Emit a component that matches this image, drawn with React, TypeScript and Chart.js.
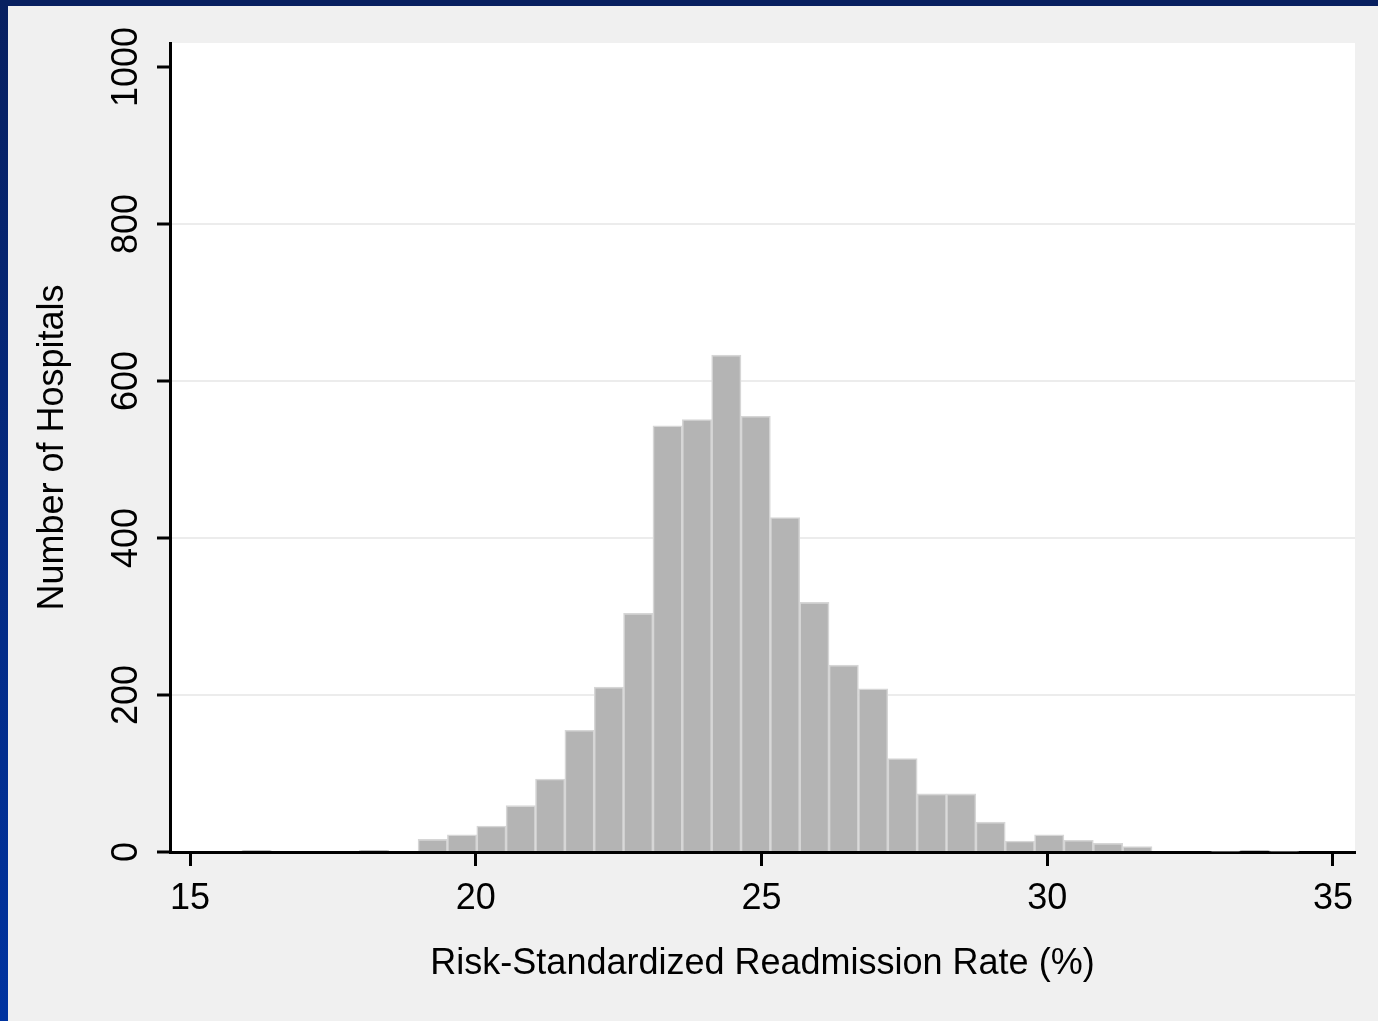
import React, { useEffect, useRef } from "react";
import { Chart, registerables } from "chart.js";

Chart.register(...registerables);

// Histogram bin edges (risk-standardized readmission rate, %)
const binEdges: number[] = [
  15.908, 16.422, 16.935, 17.449, 17.963, 18.477, 18.99, 19.504, 20.018, 20.531,
  21.045, 21.559, 22.073, 22.586, 23.1, 23.614, 24.128, 24.641, 25.155, 25.669,
  26.182, 26.696, 27.21, 27.724, 28.237, 28.751, 29.265, 29.778, 30.292, 30.806,
  31.32, 31.833, 32.347, 32.861, 33.374, 33.888, 34.402,
];

// Number of hospitals in each bin
const hospitalCounts: number[] = [
  2, 0, 0, 0, 2, 0, 16, 22, 33, 59,
  93, 155, 210, 304, 543, 551, 633, 555, 426, 318,
  238, 208, 119, 74, 74, 38, 14, 22, 15, 11,
  7, 0, 0, 1, 2, 1,
];

const xTicks: number[] = [15, 20, 25, 30, 35];
const yTicks: number[] = [0, 200, 400, 600, 800, 1000];

const xTitle = "Risk-Standardized Readmission Rate (%)";
const yTitle = "Number of Hospitals";

const FONT = "'Liberation Sans', Arial, sans-serif";
const FS = 36;

export default function App() {
  const canvasRef = useRef<HTMLCanvasElement | null>(null);

  useEffect(() => {
    const canvas = canvasRef.current;
    if (!canvas) return;

    const points = hospitalCounts.map((c, i) => ({
      x: (binEdges[i] + binEdges[i + 1]) / 2,
      y: c,
    }));

    const bgPlugin = {
      id: "bgPlugin",
      beforeDraw(chart: any) {
        const { ctx, chartArea } = chart;
        ctx.save();
        ctx.fillStyle = "#f0f0f0";
        ctx.fillRect(0, 0, chart.width, chart.height);
        ctx.fillStyle = "#ffffff";
        ctx.fillRect(chartArea.left, chartArea.top, chartArea.right - chartArea.left, chartArea.bottom - chartArea.top);
        ctx.restore();
      },
      afterDraw(chart: any) {
        const { ctx } = chart;
        const ys = chart.scales.y;
        ctx.save();
        ctx.fillStyle = "#000";
        ctx.font = `${FS}px ${FONT}`;
        ctx.textAlign = "center";
        ctx.textBaseline = "middle";
        for (const t of ys.ticks) {
          if (!yTicks.includes(t.value)) continue;
          const py = ys.getPixelForValue(t.value);
          ctx.save();
          ctx.translate(119, py);
          ctx.rotate(-Math.PI / 2);
          ctx.fillText(String(t.value), 0, 0);
          ctx.restore();
        }
        ctx.restore();
      },
    };

    const chart = new Chart(canvas, {
      type: "bar",
      data: {
        datasets: [
          {
            data: points as any,
            backgroundColor: "#b4b4b4",
            borderColor: "#d6d6d6",
            borderWidth: 1.6,
            barPercentage: 1,
            categoryPercentage: 1,
          },
        ],
      },
      options: {
        animation: false,
        responsive: false,
        devicePixelRatio: 1,
        layout: { padding: { top: 37, right: 23, left: 0, bottom: 0 } },
        plugins: { legend: { display: false }, tooltip: { enabled: false } },
        scales: {
          x: {
            type: "linear",
            offset: false,
            min: 14.65,
            max: 35.385,
            afterFit: (s: any) => {
              s.height = 169;
            },
            afterBuildTicks: (s: any) => {
              s.ticks = xTicks.map((v) => ({ value: v }));
            },
            ticks: {
              includeBounds: false,
              autoSkip: false,
              maxRotation: 0,
              color: "#000",
              padding: 11,
              font: { family: FONT, size: FS },
            },
            grid: {
              offset: false,
              drawOnChartArea: false,
              drawTicks: true,
              tickLength: 14,
              tickWidth: 3,
              tickColor: "#000",
            },
            border: { display: true, color: "#000", width: 3 },
            title: {
              display: true,
              text: xTitle,
              color: "#000",
              font: { family: FONT, size: FS, lineHeight: 1 },
              padding: { top: 0, bottom: 39 },
            },
          },
          y: {
            type: "linear",
            min: 0,
            max: 1030.6,
            afterFit: (s: any) => {
              s.width = 162;
            },
            afterBuildTicks: (s: any) => {
              s.ticks = yTicks.map((v) => ({ value: v }));
            },
            ticks: { display: false, includeBounds: false },
            grid: {
              offset: false,
              drawOnChartArea: true,
              drawTicks: true,
              tickLength: 13,
              tickWidth: 3,
              tickColor: "#000",
              lineWidth: 2,
              color: (ctx: any) => {
                const v = ctx.tick ? ctx.tick.value : 0;
                return v > 0 && v < 1000 ? "#ececec" : "rgba(0,0,0,0)";
              },
            },
            border: { display: true, color: "#000", width: 3 },
            title: {
              display: true,
              text: yTitle,
              color: "#000",
              font: { family: FONT, size: FS, lineHeight: 1 },
              padding: { top: 27, bottom: 0 },
            },
          },
        },
      },
      plugins: [bgPlugin],
    });

    return () => {
      chart.destroy();
    };
  }, []);

  return (
    <div
      style={{
        position: "absolute",
        left: 0,
        top: 0,
        width: 1378,
        height: 1021,
        background: "#f0f0f0",
        overflow: "hidden",
      }}
    >
      <div style={{ position: "absolute", left: 0, top: 0, width: 1378, height: 6, background: "#082060" }} />
      <div
        style={{
          position: "absolute",
          left: 0,
          top: 0,
          width: 8,
          height: 1021,
          background: "linear-gradient(#082060, #0033a0)",
        }}
      />
      <canvas
        ref={canvasRef}
        width={1370}
        height={1015}
        style={{ position: "absolute", left: 8, top: 6, width: 1370, height: 1015 }}
      />
    </div>
  );
}
